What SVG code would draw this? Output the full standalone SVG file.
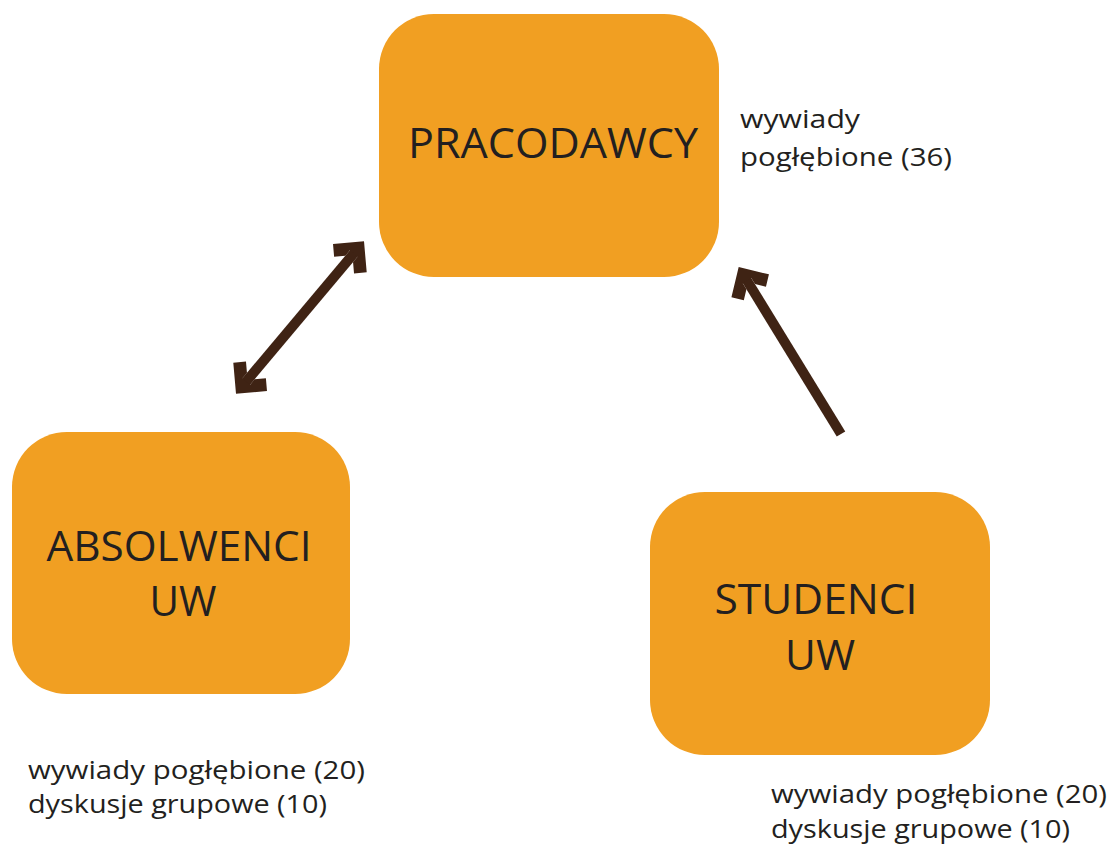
<svg xmlns="http://www.w3.org/2000/svg" width="1111" height="848" viewBox="0 0 1111 848">
<style>
.box{fill:#f19f22}
.lbl{font-family:"Open Sans","Noto Sans",sans-serif;font-size:42px;fill:#231f20}
.note{font-family:"Open Sans","Noto Sans",sans-serif;font-size:26px;fill:#231f20}
.conn{stroke:#3f2314;stroke-width:10;fill:none}
</style>
<defs>
<marker id="head" markerUnits="userSpaceOnUse" orient="auto-start-reverse" refX="0" refY="0" markerWidth="60" markerHeight="60" viewBox="-30 -30 60 60" overflow="visible">
<path d="M14,0 L-8,-22 L-17,-13 L-9,-5 L-2,-5 L-2,5 L-9,5 L-17,13 L-8,22 Z" fill="#3f2314"/>
</marker>
</defs>
<rect width="1111" height="848" fill="#fff"/>
<g id="connectors">
<line class="conn" x1="245" y1="383" x2="355" y2="252" marker-start="url(#head)" marker-end="url(#head)"/>
<line class="conn" x1="841" y1="434" x2="746" y2="279" marker-end="url(#head)"/>
</g>
<g id="pracodawcy">
<rect class="box" x="379" y="14" width="340" height="263" rx="55"/>
<text class="lbl" x="553" y="158" text-anchor="middle" textLength="290" lengthAdjust="spacingAndGlyphs">PRACODAWCY</text>
</g>
<g id="absolwenci">
<rect class="box" x="12" y="432" width="338" height="262" rx="55"/>
<text class="lbl" x="179" y="561" text-anchor="middle" textLength="265" lengthAdjust="spacingAndGlyphs">ABSOLWENCI</text>
<text class="lbl" x="183" y="616" text-anchor="middle" textLength="67" lengthAdjust="spacingAndGlyphs">UW</text>
</g>
<g id="studenci">
<rect class="box" x="650" y="492" width="340" height="263" rx="55"/>
<text class="lbl" x="816" y="614" text-anchor="middle" textLength="203" lengthAdjust="spacingAndGlyphs">STUDENCI</text>
<text class="lbl" x="820" y="670" text-anchor="middle" textLength="70" lengthAdjust="spacingAndGlyphs">UW</text>
</g>
<g id="note-pracodawcy">
<text class="note" x="740" y="128" textLength="120" lengthAdjust="spacingAndGlyphs">wywiady</text>
<text class="note" x="740" y="166" textLength="212" lengthAdjust="spacingAndGlyphs">pogłębione (36)</text>
</g>
<g id="note-absolwenci">
<text class="note" x="28" y="779" textLength="337" lengthAdjust="spacingAndGlyphs">wywiady pogłębione (20)</text>
<text class="note" x="28" y="813" textLength="299" lengthAdjust="spacingAndGlyphs">dyskusje grupowe (10)</text>
</g>
<g id="note-studenci">
<text class="note" x="771" y="803" textLength="336" lengthAdjust="spacingAndGlyphs">wywiady pogłębione (20)</text>
<text class="note" x="771" y="838" textLength="299" lengthAdjust="spacingAndGlyphs">dyskusje grupowe (10)</text>
</g>
</svg>
